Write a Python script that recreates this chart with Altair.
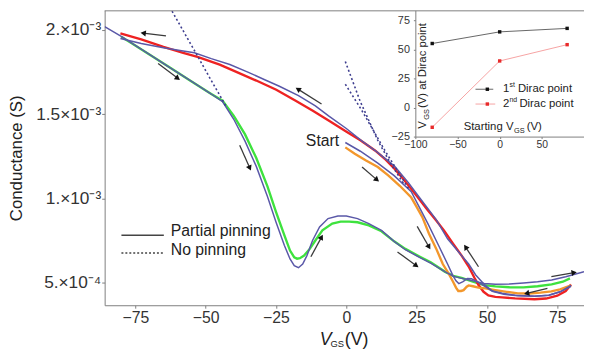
import math
import altair as alt
import pandas as pd

# ---------------- main panel data: V_GS (V) and conductance (units of 1e-4 S)
green_v = [-80, -76, -70, -63, -55, -48, -44, -40, -36, -32, -28, -25, -22, -20, -18.5, -17.5,
           -16.5, -15, -13, -11, -8.5, -5, -2, 1, 4, 8, 12.5, 17, 21, 26, 30, 35, 38, 41, 45,
           49, 53, 58, 63, 68, 73, 77, 79.5]
green_g = [19.6, 19.18, 18.55, 17.8, 16.95, 16.2, 15.8, 14.9, 13.8, 12.4, 10.7, 9.2, 7.8, 6.9,
           6.5, 6.42, 6.45, 6.6, 7.0, 7.5, 8.1, 8.5, 8.62, 8.62, 8.58, 8.4, 8.05, 7.45, 7.0,
           6.55, 6.2, 5.65, 5.4, 5.28, 5.06, 4.85, 4.77, 4.72, 4.71, 4.78, 4.89, 5.05, 5.25]

red_v = [-80.3, -76, -72.9, -65, -58, -52.9, -45, -38.9, -32, -24.9, -18, -11.9, -6, -0.35, 5,
         10.2, 14, 17.2, 20.3, 25, 28.7, 31.9, 34.7, 38, 41, 43.5, 45.5, 47, 48.8, 50.5, 53,
         55.4, 60, 66.9, 71, 75, 78, 79.9]
red_g = [19.8, 19.6, 19.45, 19.0, 18.65, 18.4, 17.95, 17.5, 17.0, 16.45, 15.8, 15.2, 14.6, 14.0,
         13.45, 12.85, 12.3, 11.75, 11.15, 10.15, 9.35, 8.7, 8.1, 7.3, 6.6, 5.95, 5.3, 4.85,
         4.45, 4.24, 4.15, 4.12, 4.06, 4.01, 4.05, 4.22, 4.5, 4.89]

orange_v = [-0.35, 3, 7, 11.2, 15, 19, 23.1, 25, 27, 29.4, 32, 34.3, 36.5, 37.9, 39, 39.8, 40.8,
            41.7, 42.8, 43.5, 45, 47, 49.4, 53, 57, 61, 65, 69, 72.9, 76, 79.9]
orange_g = [13.03, 12.65, 12.25, 11.86, 11.35, 10.75, 10.05, 9.5, 8.9, 7.9, 7.0, 6.1, 5.5, 5.06,
            4.7, 4.5, 4.5, 4.55, 4.75, 4.83, 4.78, 4.7, 4.65, 4.55, 4.45, 4.36, 4.35, 4.4, 4.48,
            4.6, 4.83]

# partial pinning model curves
fit_green_v = [-85.9, -80, -76, -70, -63, -55, -48, -44, -40, -36, -32, -28, -25, -22, -20, -18.5,
               -17, -15.5, -14, -12, -9.5, -6.5, -3, 0, 4, 8, 12.5, 17, 21, 26, 30, 35, 38, 41,
               45, 49, 53, 58, 63, 68, 73, 78, 84.5]
fit_green_g = [20.2, 19.62, 19.2, 18.55, 17.8, 16.95, 16.2, 15.75, 14.7, 13.4, 11.9, 10.1, 8.6,
               7.2, 6.4, 6.0, 5.88, 6.1, 6.6, 7.5, 8.3, 8.8, 8.95, 8.95, 8.8, 8.5, 8.1, 7.45,
               6.95, 6.5, 6.15, 5.65, 5.38, 5.25, 5.1, 4.95, 4.9, 4.92, 4.98, 5.05, 5.15, 5.35,
               5.65]
fit_red_v = [-80.3, -72.9, -65, -58, -54, -48, -41.4, -35, -29, -23.8, -17, -11, -6.3, 0, 5.6,
             11, 17.2, 22, 26, 31.9, 36, 40, 43.5, 46, 49.4, 52, 55.4, 60, 66.9, 72, 76, 79.9]
fit_red_g = [19.5, 19.2, 18.95, 18.75, 18.65, 18.3, 17.95, 17.5, 17.05, 16.66, 16.1, 15.5, 14.9,
             14.15, 13.4, 12.75, 11.9, 10.95, 10.05, 8.75, 7.6, 6.8, 6.1, 5.45, 4.83, 4.5, 4.36,
             4.25, 4.18, 4.25, 4.45, 4.83]
fit_orange_v = [-0.35, 5, 11.2, 17, 23.1, 25.9, 29, 32.9, 36, 37.9, 39, 40, 41.5, 43.1, 44.5, 46.6,
                49, 51.9, 56, 61, 66.9, 72, 76, 79.9]
fit_orange_g = [13.32, 12.8, 12.09, 11.35, 10.4, 9.5, 8.5, 7.17, 6.1, 5.41, 5.1, 4.94, 5.05, 5.24,
                5.22, 5.06, 4.8, 4.48, 4.3, 4.22, 4.18, 4.25, 4.45, 4.77]

# no pinning model curves (dotted)
nopin1_v = [-63.5, -58, -52.9, -48, -44.2, -42.5]
nopin1_g = [21.58, 19.96, 18.46, 17.0, 15.9, 15.4]
nopin2_v = [-0.35, 4.9, 11.2, 16, 20.7]
nopin2_g = [18.13, 15.78, 13.44, 12.0, 10.8]
nopin3_v = [-0.35, 5.6, 13.7, 22.4]
nopin3_g = [16.78, 15.2, 12.85, 10.51]

# sweep-direction arrows: tail (V, G) -> head (V, G)
arrow_v0 = [-64.1, -66.9, -37.9, -8.8, 5.6, -12.6, 18.2, 25.2, 47.0, 71.5, 72.9]
arrow_g0 = [19.65, 18.01, 13.15, 15.61, 11.86, 6.53, 6.82, 8.34, 5.94, 4.65, 5.35]
arrow_v1 = [-72.2, -59.9, -34.3, -17.2, 10.9, -8.8, 24.9, 29.4, 42.4, 64.1, 81.0]
arrow_g1 = [19.82, 17.13, 11.80, 16.49, 11.10, 7.70, 6.00, 7.11, 7.11, 4.36, 5.59]

x_ticks = [-75, -50, -25, 0, 25, 50, 75]
y_ticks = [5, 10, 15, 20]
y_tick_labels = ["5.×10⁻⁴", "1.×10⁻³", "1.5×10⁻³", "2.×10⁻³"]

# ---------------- inset data
start_vgs = [-80, 0, 80]
dirac1 = [55, 65, 68]
dirac2 = [-17, 40, 54]
inset_x_ticks = [-100, -50, 0, 50]
inset_y_ticks = [-25, 0, 25, 50, 75]

# ---------------- layout
W, H = 486, 299
X_DOMAIN = [-85.9, 84.5]
Y_DOMAIN = [3.652, 21.17]
FONT = "Liberation Sans"
AX = "#7f7f7f"

xs = alt.Scale(domain=X_DOMAIN, nice=False, zero=False)
ys = alt.Scale(domain=Y_DOMAIN, nice=False, zero=False)

y_expr = "".join(f"datum.value == {v} ? '{l}' : " for v, l in zip(y_ticks, y_tick_labels)) + "''"

x_axis = alt.Axis(values=x_ticks, title=None, grid=False, tickSize=3, labelFontSize=16,
                  labelPadding=2, domainColor=AX, tickColor=AX, labelColor="#333",
                  labelFont=FONT, labelFlush=False, labelOverlap=False)
y_axis = alt.Axis(values=y_ticks, title=None, grid=False, tickSize=3, labelFontSize=17.5,
                  labelPadding=1, domainColor=AX, tickColor=AX, labelColor="#333",
                  labelFont=FONT, labelExpr=y_expr, labelFlush=False, labelOverlap=False)


def frame(pairs):
    rows = []
    for name, vs, gs in pairs:
        for i, (v, g) in enumerate(zip(vs, gs)):
            rows.append({"curve": name, "V": v, "G": g, "i": i})
    return pd.DataFrame(rows)


data_df = frame([("green", green_v, green_g), ("red", red_v, red_g),
                 ("orange", orange_v, orange_g)])
fit_df = frame([("fg", fit_green_v, fit_green_g), ("fr", fit_red_v, fit_red_g),
                ("fo", fit_orange_v, fit_orange_g)])
nopin_df = frame([("n1", nopin1_v, nopin1_g), ("n2", nopin2_v, nopin2_g),
                  ("n3", nopin3_v, nopin3_g)])

enc = dict(x=alt.X("V:Q", scale=xs, axis=x_axis), y=alt.Y("G:Q", scale=ys, axis=y_axis),
           detail="curve:N", order="i:Q")

data_lines = alt.Chart(data_df).mark_line(strokeWidth=2.4, clip=True).encode(
    color=alt.Color("curve:N", legend=None,
                    scale=alt.Scale(domain=["green", "red", "orange"],
                                    range=["#3ee23e", "#ee2222", "#f3972c"])), **enc)
fit_lines = alt.Chart(fit_df).mark_line(strokeWidth=1.5, color="#5a58a8", clip=True).encode(**enc)
nopin_lines = alt.Chart(nopin_df).mark_line(strokeWidth=1.6, color="#3d3d8f", strokeDash=[2, 2.5],
                                            clip=True).encode(**enc)

# arrows
px_v = W / (X_DOMAIN[1] - X_DOMAIN[0])
px_g = H / (Y_DOMAIN[1] - Y_DOMAIN[0])
angles = []
for v0, g0, v1, g1 in zip(arrow_v0, arrow_g0, arrow_v1, arrow_g1):
    dx = (v1 - v0) * px_v
    dy = -(g1 - g0) * px_g
    angles.append(math.degrees(math.atan2(dx, -dy)) % 360)
arrow_df = pd.DataFrame({"V0": arrow_v0, "G0": arrow_g0, "V1": arrow_v1, "G1": arrow_g1,
                         "ang": angles})
arrow_shafts = alt.Chart(arrow_df).mark_rule(color="#3a3a3a", strokeWidth=1.3).encode(
    x=alt.X("V0:Q", scale=xs, axis=x_axis), y=alt.Y("G0:Q", scale=ys, axis=y_axis),
    x2="V1:Q", y2="G1:Q")
arrow_heads = alt.Chart(arrow_df).mark_point(shape="triangle-up", filled=True, size=38,
                                             color="#111", opacity=1).encode(
    x=alt.X("V1:Q", scale=xs, axis=x_axis), y=alt.Y("G1:Q", scale=ys, axis=y_axis),
    angle=alt.Angle("ang:Q", scale=None))


def txt(text, x, y, size=16, **kw):
    props = dict(font=FONT, fontSize=size, color="#222", align="left", baseline="middle")
    props.update(kw)
    return alt.Chart(pd.DataFrame({"t": [text]})).mark_text(**props).encode(
        text="t:N", x=alt.value(x), y=alt.value(y))


def seg(x1, x2, y, color, width=1.5, dash=None):
    kw = dict(color=color, strokeWidth=width)
    if dash:
        kw["strokeDash"] = dash
    return alt.Chart(pd.DataFrame({"a": [0]})).mark_rule(**kw).encode(
        x=alt.value(x1), x2=alt.value(x2), y=alt.value(y))


top_border = seg(0, W, 0.5, AX, 1)

main_texts = [
    txt("Start", 204, 133, 16),
    txt("Partial pinning", 67, 224, 16),
    txt("No pinning", 67, 243, 16),
    txt("V", 218, 339, 18, fontStyle="italic", baseline="alphabetic"),
    txt("GS", 229, 341.5, 9.5, baseline="alphabetic"),
    txt("(V)", 243.5, 339, 18, baseline="alphabetic"),
    txt("Conductance (S)", -89, 150, 17, angle=270, align="center"),
]
legend_lines = [seg(17, 60, 228, "#444", 1.6), seg(17, 60, 246, "#444", 1.6, [2, 2])]

main = alt.layer(data_lines, fit_lines, nopin_lines, arrow_shafts, arrow_heads, top_border,
                 *legend_lines, *main_texts)

# ---------------- inset
ixs = alt.Scale(domain=[-100, 100], range=[315, 486], nice=False, zero=False)
iys = alt.Scale(domain=[-25, 83.5], range=[128, 0], nice=False, zero=False)
ix_axis = alt.Axis(orient="bottom", offset=128 - H, values=inset_x_ticks, title=None, grid=False,
                   tickSize=2, labelPadding=1, labelFontSize=10.5, domainColor=AX, tickColor=AX,
                   labelColor="#333", labelFont=FONT, labelFlush=False, labelOverlap=False)
iy_axis = alt.Axis(orient="left", offset=-315, values=inset_y_ticks, title=None, grid=False,
                   tickSize=2, labelPadding=4, labelFontSize=11, domainColor=AX, tickColor=AX,
                   labelColor="#333", labelFont=FONT, labelFlush=False, labelOverlap=False)

inset_df = pd.DataFrame({"s": start_vgs, "d1": dirac1, "d2": dirac2})
ienc1 = dict(x=alt.X("s:Q", scale=ixs, axis=ix_axis), y=alt.Y("d1:Q", scale=iys, axis=iy_axis))
ienc2 = dict(x=alt.X("s:Q", scale=ixs, axis=ix_axis), y=alt.Y("d2:Q", scale=iys, axis=iy_axis))
in_l1 = alt.Chart(inset_df).mark_line(color="#555", strokeWidth=0.9).encode(**ienc1)
in_l2 = alt.Chart(inset_df).mark_line(color="#f6a3a3", strokeWidth=1).encode(**ienc2)
in_p1 = alt.Chart(inset_df).mark_square(color="#111", size=12, opacity=1).encode(**ienc1)
in_p2 = alt.Chart(inset_df).mark_square(color="#e82a2a", size=12, opacity=1).encode(**ienc2)


def sq(x, y, color):
    return alt.Chart(pd.DataFrame({"a": [0]})).mark_square(color=color, size=12, opacity=1).encode(
        x=alt.value(x), y=alt.value(y))


inset_extra = [
    seg(376, 394, 80, "#555", 0.9), sq(388, 80, "#111"),
    seg(376, 396, 95, "#f6a3a3", 1), sq(388, 95, "#e82a2a"),
    txt("1", 404, 80, 11.5), txt("st", 410.5, 76, 7), txt("Dirac point", 419, 80, 11.5),
    txt("2", 404, 95, 11.5), txt("nd", 410.5, 91, 7), txt("Dirac point", 420.5, 95, 11.5),
    txt("Starting", 364, 121, 11.5, baseline="alphabetic"),
    txt("V", 407, 121, 11.5, baseline="alphabetic"),
    txt("GS", 415, 124, 7.5, baseline="alphabetic"),
    txt("(V)", 428, 121, 11.5, baseline="alphabetic"),
    txt("V", 326, 120, 11.5, angle=270, baseline="alphabetic"),
    txt("GS", 329, 111, 7.5, angle=270, baseline="alphabetic"),
    txt("(V) at Dirac point", 326, 99, 11.5, angle=270, baseline="alphabetic"),
]

inset = alt.layer(in_l1, in_l2, in_p1, in_p2, *inset_extra)

chart = alt.layer(main, inset).resolve_scale(x="independent", y="independent").properties(
    width=W, height=H,
    padding={"left": 98, "top": 0, "right": 0, "bottom": 43},
    autosize=alt.AutoSizeParams(type="none"),
    background="white",
).configure_view(strokeWidth=0)

chart.save("out.html", embed_options={"renderer": "svg", "actions": False})
